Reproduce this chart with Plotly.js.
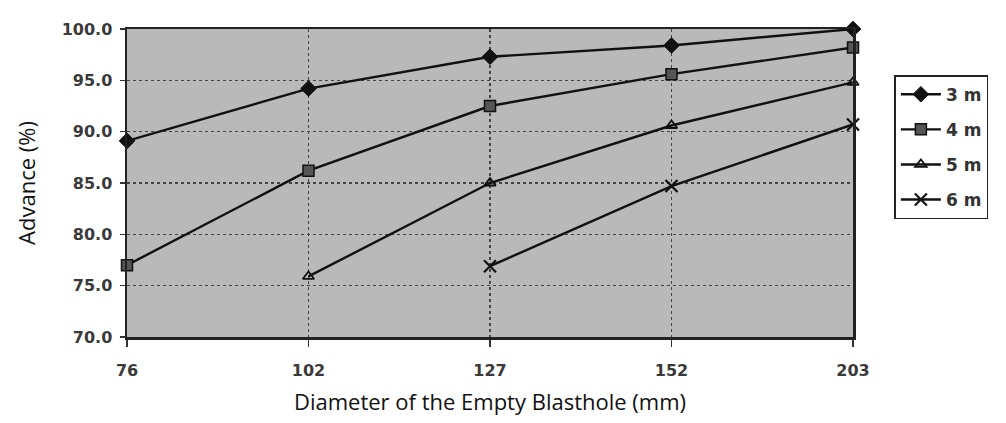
<!DOCTYPE html>
<html>
<head>
<meta charset="utf-8">
<script src="https://cdn.plot.ly/plotly-3.0.1.min.js"></script>
<style>html,body{margin:0;padding:0;background:#fff;}#chart{width:1006px;height:423px;}</style>
</head>
<body>
<div id="chart"></div>
<script>
const categories = ["76", "102", "127", "152", "203"];
const series3m = [89.1, 94.2, 97.3, 98.4, 100.0];
const series4m = [77.0, 86.2, 92.5, 95.6, 98.2];
const series5m = [null, 75.9, 85.0, 90.6, 94.8];
const series6m = [null, null, 76.9, 84.7, 90.7];
const seriesNames = ["3 m", "4 m", "5 m", "6 m"];
const yTicks = [70, 75, 80, 85, 90, 95, 100];

const tickFont = {size: 16, color: "#3a3a3a", family: "DejaVu Sans, sans-serif", weight: "bold"};
const titleFont = {size: 22, family: "Open Sans, sans-serif", color: "#111"};

const styles = [
  {symbol: "diamond", size: 12, color: "#111", line: {color: "#111", width: 1}},
  {symbol: "square", size: 11, color: "#555", line: {color: "#111", width: 1.5}},
  {symbol: "triangle-up-open", size: 10, color: "#111", line: {color: "#111", width: 1.8}},
  {symbol: "x-thin-open", size: 12, color: "#111", line: {color: "#111", width: 2.2}}
];
const allSeries = [series3m, series4m, series5m, series6m];

const traces = allSeries.map((vals, i) => ({
  type: "scatter",
  mode: "lines+markers",
  name: seriesNames[i],
  legendgroup: "g" + i,
  x: categories,
  y: vals,
  connectgaps: false,
  line: {color: "#111", width: 2.4},
  marker: styles[i],
  cliponaxis: false
}));

const layout = {
  width: 1006, height: 423,
  margin: {l: 127, r: 153, t: 29, b: 86},
  paper_bgcolor: "#ffffff",
  plot_bgcolor: "#b9b9b9",
  font: {family: "DejaVu Sans, sans-serif", color: "#222"},
  xaxis: {
    type: "category",
    range: [0, 4],
    showgrid: true, gridcolor: "#444", gridwidth: 1.2, griddash: "dot",
    ticks: "outside", ticklen: 7, tickcolor: "#333", tickwidth: 1.5,
    showline: true, linecolor: "#222", linewidth: 2.5, mirror: true,
    tickfont: tickFont,
    ticklabelstandoff: 10,
    title: {text: "Diameter of the Empty Blasthole (mm)", font: titleFont, standoff: 16},
    zeroline: false
  },
  yaxis: {
    range: [70, 100],
    tickvals: yTicks,
    tickformat: ".1f",
    showgrid: true, gridcolor: "#444", gridwidth: 1.4, griddash: "dot",
    ticks: "outside", ticklen: 5, tickcolor: "#333", tickwidth: 1.5,
    showline: true, linecolor: "#222", linewidth: 2.5, mirror: true,
    tickfont: tickFont,
    ticklabelstandoff: 4,
    title: {text: "Advance (%)", font: titleFont, standoff: 20},
    zeroline: false
  },
  legend: {
    x: 1.057, xanchor: "left",
    y: 0.85, yanchor: "top",
    bgcolor: "#ffffff",
    bordercolor: "#222", borderwidth: 1.5,
    font: {size: 17, color: "#333", family: "DejaVu Sans, sans-serif", weight: "bold"},
    tracegroupgap: 10,
    itemwidth: 40
  },
  showlegend: true
};

Plotly.newPlot("chart", traces, layout, {displayModeBar: false, staticPlot: true});
</script>
</body>
</html>
